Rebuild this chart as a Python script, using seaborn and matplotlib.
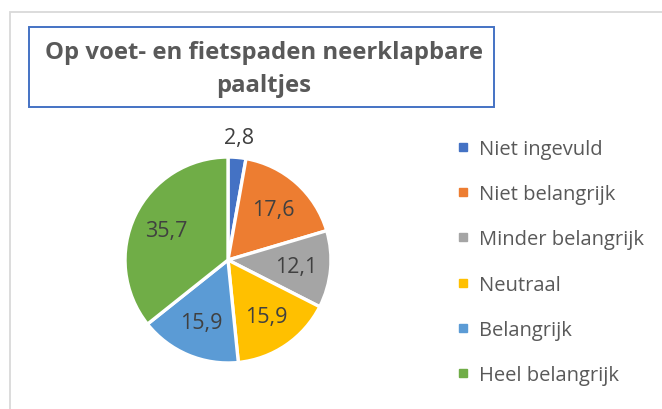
import matplotlib
matplotlib.use("Agg")
import matplotlib.pyplot as plt
import seaborn as sns
import numpy as np
from matplotlib.patches import Rectangle
from matplotlib.lines import Line2D

sns.set_theme(style="white")
plt.rcParams['font.family'] = ['Open Sans', 'DejaVu Sans']

title_lines = ["Op voet- en fietspaden neerklapbare", "paaltjes"]
categories = ["Niet ingevuld", "Niet belangrijk", "Minder belangrijk",
              "Neutraal", "Belangrijk", "Heel belangrijk"]
values = [2.8, 17.6, 12.1, 15.9, 15.9, 35.7]
colors = ["#4472C4", "#ED7D31", "#A5A5A5", "#FFC000", "#5B9BD5", "#70AD47"]

W, H = 662, 410
fig = plt.figure(figsize=(W / 100, H / 100), dpi=100)

def fx(px):
    return px / W

def fy(py):
    return 1 - py / H

# outer chart border
fig.patches.append(Rectangle((fx(9.5), fy(430)), fx(700), 417 / H, transform=fig.transFigure,
                             fill=False, edgecolor="#D9D9D9", lw=1.3))
# title box
fig.patches.append(Rectangle((fx(29), fy(108)), fx(465), 80 / H, transform=fig.transFigure,
                             fill=False, edgecolor="#4472C4", lw=1.4))
fig.text(fx(264), fy(53), title_lines[0], ha="center", va="center", fontsize=17.2,
         fontweight="bold", color="#595959")
fig.text(fx(264), fy(86), title_lines[1], ha="center", va="center", fontsize=17.2,
         fontweight="bold", color="#595959")

cx, cy, r = 228, 261, 104
ax = fig.add_axes([fx(cx - r), fy(cy + r), 2 * r / W, 2 * r / H])
wedges, texts, autotexts = ax.pie(
    values, colors=colors, startangle=90, counterclock=False,
    autopct=lambda p: f"{p:.1f}".replace(".", ","), pctdistance=0.66,
    wedgeprops=dict(edgecolor="white", linewidth=2.4),
    textprops=dict(fontsize=15.5, color="#404040"))
ax.set_xlim(-1.01, 1.01)
ax.set_ylim(-1.01, 1.01)
ax.axis("off")

# small slice label outside
w0 = wedges[0]
ang = np.deg2rad((w0.theta1 + w0.theta2) / 2)
autotexts[0].set_position((1.19 * np.cos(ang), 1.19 * np.sin(ang)))

handles = [Line2D([], [], marker="s", linestyle="", markersize=6,
                  markerfacecolor=c, markeredgecolor=c) for c in colors]
leg = fig.legend(handles, categories, loc="upper left",
                 bbox_to_anchor=(fx(446), fy(130)), frameon=False,
                 fontsize=14.5, labelcolor="#595959", labelspacing=1.25,
                 handlelength=0.7, handletextpad=0.45, borderpad=0)

fig.savefig("out.png", dpi=100, facecolor="white")
